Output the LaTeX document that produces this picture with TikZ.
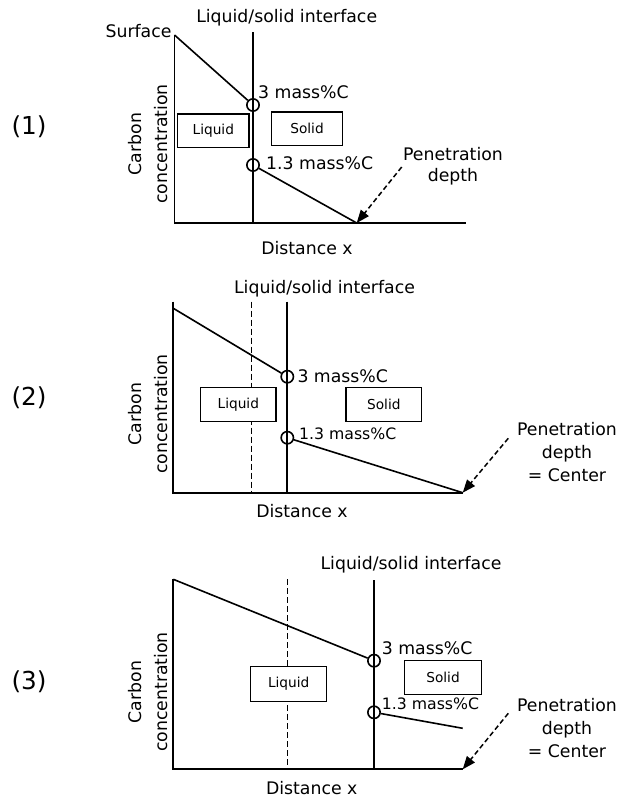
\documentclass[tikz,border=0pt]{standalone}
\usepackage{fontspec}
\setmainfont{DejaVu Sans}
\usetikzlibrary{arrows.meta}
\tikzset{
  ax/.style={line width=1.8pt},
  cline/.style={line width=1.6pt},
  dline/.style={line width=1.5pt, dash pattern=on 6pt off 3pt},
  lbl/.style={inner sep=0pt, font=\fontsize{17.3}{21}\selectfont},
  slbl/.style={inner sep=0pt, font=\fontsize{15.7}{19}\selectfont},
  num/.style={inner sep=0pt, font=\fontsize{24.7}{28}\selectfont},
  phase/.style={draw, fill=white, line width=1.5pt, inner sep=0pt, font=\fontsize{13.7}{16}\selectfont},
  pt/.style={circle, draw, line width=1.6pt, minimum size=12.3pt, inner sep=0pt},
  pen/.style={line width=1.5pt, dash pattern=on 5pt off 3pt, -{Triangle[length=13pt,width=10pt]}},
  ylab/.style={lbl, rotate=90, align=center, font=\fontsize{17.3}{26}\selectfont},
}
\begin{document}
\begin{tikzpicture}[x=1pt,y=-1pt]
\useasboundingbox (0,0) rectangle (618,798);
% ---------- panel 1 ----------
\coordinate (t1) at (174.5,35);
\coordinate (o1) at (174.5,223);
\coordinate (e1) at (466,223);
\coordinate (it1) at (253,32);
\coordinate (ib1) at (253,223);
\coordinate (pd1) at (356.7,223);
\coordinate (ps1) at (401.7,167);
\node[pt] (c1a) at (253,105) {};
\node[pt] (c1b) at (253,165) {};
\draw[ax] (t1) -- (o1) -- (e1);
\draw[ax] (it1) -- (ib1);
\draw[cline] (t1) -- (c1a);
\draw[cline] (c1b) -- (pd1);
\node[phase, minimum width=71.3pt, minimum height=33.7pt] (liq1) at (213.3,130.8) {Liquid};
\node[phase, minimum width=70.6pt, minimum height=33.7pt] (sol1) at (307,128.8) {Solid};
\node[lbl] (if1) at (286.7,18) {Liquid/solid interface};
\node[lbl] (sf1) at (138.5,31.5) {Surface};
\node[lbl, anchor=west] (m1a) at (258,92.7) {3 mass\%C};
\node[lbl, anchor=west] (m1b) at (266,163) {1.3 mass\%C};
\node[lbl, align=center] (pen1) at (453,166) {Penetration\\depth};
\draw[pen] (ps1) -- (pd1);
\node[ylab] (cc1) at (148,144) {Carbon\\concentration};
\node[lbl] (dx1) at (307,248) {Distance x};
\node[num] (n1) at (29,127) {(1)};
% ---------- panel 2 ----------
\coordinate (t2) at (173.3,301.7);
\coordinate (s2) at (173.3,308.3);
\coordinate (o2) at (173.3,492.7);
\coordinate (e2) at (462.7,492.7);
\coordinate (it2) at (287.3,301.7);
\coordinate (ib2) at (287.3,492.7);
\coordinate (dt2) at (251.3,301.7);
\coordinate (db2) at (251.3,492.7);
\coordinate (ps2) at (508.3,438.3);
\node[pt] (c2a) at (287.3,376.7) {};
\node[pt] (c2b) at (287.3,437.7) {};
\draw[dline] (dt2) -- (db2);
\draw[ax] (t2) -- (o2) -- (e2);
\draw[ax] (it2) -- (ib2);
\draw[cline] (s2) -- (c2a);
\draw[cline] (c2b) -- (e2);
\node[phase, minimum width=75.3pt, minimum height=34.4pt] (liq2) at (238.3,404.5) {Liquid};
\node[phase, minimum width=75.7pt, minimum height=34.4pt] (sol2) at (383.8,404.5) {Solid};
\node[lbl] (if2) at (324.5,289) {Liquid/solid interface};
\node[lbl, anchor=west] (m2a) at (297.3,376) {3 mass\%C};
\node[slbl, anchor=west] (m2b) at (299,434) {1.3 mass\%C};
\node[lbl, align=center, font=\fontsize{17.3}{23}\selectfont] (pen2) at (567,452) {Penetration\\depth\\= Center};
\draw[pen] (ps2) -- (e2);
\node[ylab] (cc2) at (148,414) {Carbon\\concentration};
\node[lbl] (dx2) at (302,510.7) {Distance x};
\node[num] (n2) at (29,398) {(2)};
% ---------- panel 3 ----------
\coordinate (t3) at (173.3,579.3);
\coordinate (o3) at (173.3,769.3);
\coordinate (e3) at (462.7,769.3);
\coordinate (it3) at (374,580);
\coordinate (ib3) at (374,769.3);
\coordinate (dt3) at (287.3,579.3);
\coordinate (db3) at (287.3,769.3);
\coordinate (le3) at (462.7,728.3);
\coordinate (ps3) at (508.3,713.3);
\node[pt] (c3a) at (374,660.7) {};
\node[pt] (c3b) at (374,712.3) {};
\draw[dline] (dt3) -- (db3);
\draw[ax] (t3) -- (o3) -- (e3);
\draw[ax] (it3) -- (ib3);
\draw[cline] (t3) -- (c3a);
\draw[cline] (c3b) -- (le3);
\node[phase, minimum width=76pt, minimum height=35pt] (liq3) at (288.7,684.2) {Liquid};
\node[phase, minimum width=77.4pt, minimum height=33.6pt] (sol3) at (443,677.5) {Solid};
\node[lbl] (if3) at (411,565) {Liquid/solid interface};
\node[lbl, anchor=west] (m3a) at (381.7,648.3) {3 mass\%C};
\node[slbl, anchor=west] (m3b) at (381.7,703.3) {1.3 mass\%C};
\node[lbl, align=center, font=\fontsize{17.3}{23}\selectfont] (pen3) at (567,728) {Penetration\\depth\\= Center};
\draw[pen] (ps3) -- (e3);
\node[ylab] (cc3) at (148,692) {Carbon\\concentration};
\node[lbl] (dx3) at (311.7,788.3) {Distance x};
\node[num] (n3) at (29,682) {(3)};
\end{tikzpicture}
\end{document}
